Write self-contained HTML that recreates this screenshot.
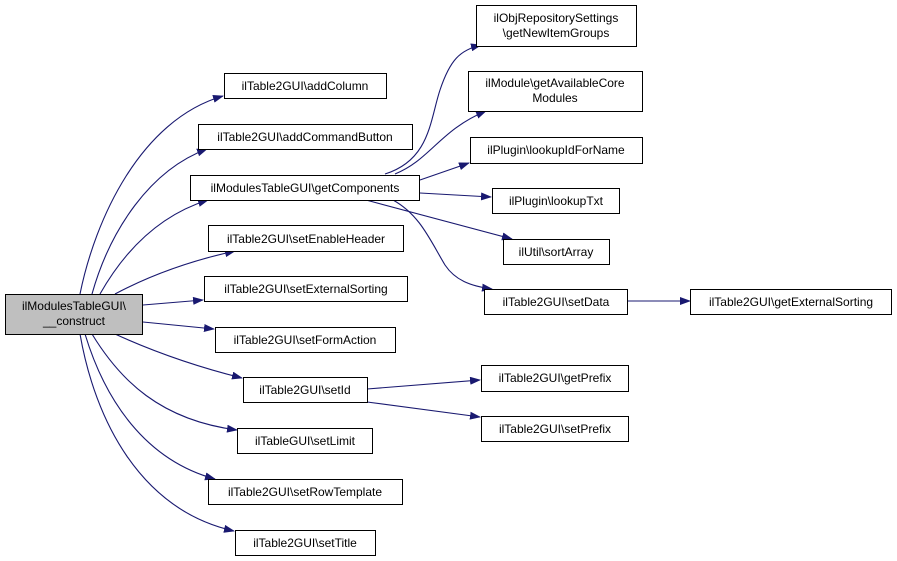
<!DOCTYPE html>
<html><head><meta charset="utf-8"><style>
html,body{margin:0;padding:0;background:#fff}
svg{display:block}
text{font-family:"Liberation Sans",Arial,sans-serif;font-size:12px;fill:#000}
</style></head><body>
<svg width="897" height="561" viewBox="0 0 897 561" xmlns="http://www.w3.org/2000/svg">
<defs><marker id="a" markerUnits="userSpaceOnUse" markerWidth="11" markerHeight="8" refX="10" refY="4" orient="auto"><path d="M0,0 L11,4 L0,8 z" fill="#191970"/></marker></defs>
<g fill="none" stroke="#191970" stroke-width="1.1" marker-end="url(#a)">
<path d="M80,294 C95,220 140,120 223,96"/>
<path d="M92,294 C110,230 150,170 207,149"/>
<path d="M100,294 C125,250 160,215 208,200"/>
<path d="M115,294 C145,278 185,262 235,251"/>
<path d="M143,305 L203,300"/>
<path d="M143,322 L214,329"/>
<path d="M115,334 C150,350 190,365 242,378"/>
<path d="M92,334 C120,380 160,420 237,430"/>
<path d="M85,334 C105,400 145,460 215,479"/>
<path d="M80,334 C95,420 140,510 234,531"/>
<path d="M385,174 C430,160 430,120 440,90 C450,60 460,50 481,45"/>
<path d="M395,174 C430,160 440,130 486,111"/>
<path d="M420,180 L469,163"/>
<path d="M420,193 L491,197"/>
<path d="M366,200 L512,239"/>
<path d="M393,200 C420,215 430,240 445,265 C455,280 470,286 492,289"/>
<path d="M627,301 L690,301"/>
<path d="M367,389 L480,380"/>
<path d="M367,402 L480,417"/>
</g>
<g stroke="#000" stroke-width="1" fill="#fff">
<rect x="5.5" y="294.5" width="137" height="40" fill="#bfbfbf"/>
<rect x="224.5" y="73.5" width="162" height="25"/>
<rect x="198.5" y="124.5" width="214" height="25"/>
<rect x="190.5" y="175.5" width="229" height="25"/>
<rect x="208.5" y="225.5" width="195" height="26"/>
<rect x="204.5" y="276.5" width="203" height="25"/>
<rect x="215.5" y="327.5" width="180" height="25"/>
<rect x="243.5" y="377.5" width="124" height="25"/>
<rect x="237.5" y="428.5" width="135" height="25"/>
<rect x="208.5" y="479.5" width="194" height="25"/>
<rect x="235.5" y="530.5" width="140" height="25"/>
<rect x="476.5" y="5.5" width="160" height="41"/>
<rect x="468.5" y="71.5" width="174" height="40"/>
<rect x="470.5" y="137.5" width="172" height="26"/>
<rect x="492.5" y="188.5" width="127" height="25"/>
<rect x="503.5" y="239.5" width="106" height="25"/>
<rect x="484.5" y="289.5" width="143" height="25"/>
<rect x="690.5" y="289.5" width="201" height="25"/>
<rect x="481.5" y="365.5" width="147" height="26"/>
<rect x="481.5" y="416.5" width="147" height="25"/>
</g>
<g text-anchor="middle">
<text x="74" y="310">ilModulesTableGUI\</text>
<text x="74" y="325">__construct</text>
<text x="305" y="90">ilTable2GUI\addColumn</text>
<text x="305" y="141">ilTable2GUI\addCommandButton</text>
<text x="305" y="192">ilModulesTableGUI\getComponents</text>
<text x="306" y="243">ilTable2GUI\setEnableHeader</text>
<text x="306" y="293">ilTable2GUI\setExternalSorting</text>
<text x="305" y="344">ilTable2GUI\setFormAction</text>
<text x="305" y="394">ilTable2GUI\setId</text>
<text x="305" y="445">ilTableGUI\setLimit</text>
<text x="305" y="496">ilTable2GUI\setRowTemplate</text>
<text x="305" y="547">ilTable2GUI\setTitle</text>
<text x="556" y="22">ilObjRepositorySettings</text>
<text x="556" y="37">\getNewItemGroups</text>
<text x="555" y="87">ilModule\getAvailableCore</text>
<text x="555" y="102">Modules</text>
<text x="556" y="154">ilPlugin\lookupIdForName</text>
<text x="556" y="205">ilPlugin\lookupTxt</text>
<text x="556" y="256">ilUtil\sortArray</text>
<text x="556" y="306">ilTable2GUI\setData</text>
<text x="791" y="306">ilTable2GUI\getExternalSorting</text>
<text x="555" y="382">ilTable2GUI\getPrefix</text>
<text x="555" y="433">ilTable2GUI\setPrefix</text>
</g>
</svg>
</body></html>
